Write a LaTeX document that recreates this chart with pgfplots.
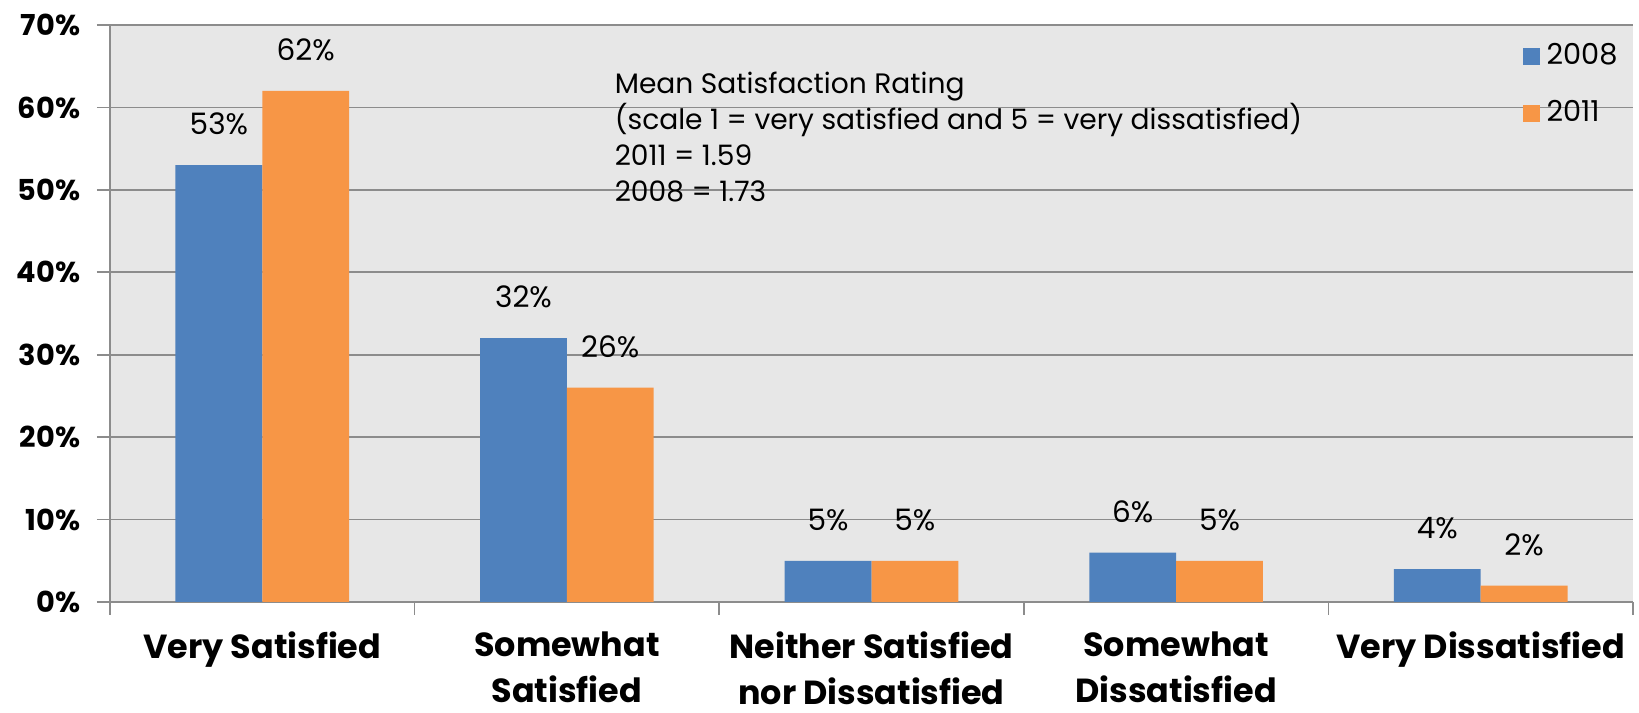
\documentclass[border=0pt]{standalone}
\usepackage{pgfplots}
\pgfplotsset{compat=1.18}
\usepackage{fontspec}
\setmainfont{Poppins}
\definecolor{cblue}{HTML}{4F81BD}
\definecolor{corange}{HTML}{F79646}
\definecolor{bggray}{HTML}{E7E7E7}
\definecolor{gridgray}{HTML}{8C8C8C}
\begin{document}
\begin{tikzpicture}
\useasboundingbox (0,0) rectangle (163.9mm,71.3mm);
\begin{axis}[
  at={(11.0mm,11.1mm)}, anchor=south west,
  scale only axis, width=152.3mm, height=57.7mm,
  xmin=-0.5, xmax=4.5, ymin=0, ymax=70,
  ybar, bar width=0.285,
  /pgf/number format/assume math mode=true,
  axis background/.style={fill=bggray},
  axis x line*=bottom, axis y line*=left,
  axis line style={gridgray, line width=0.5pt},
  tick align=outside, tick pos=left,
  major tick length=1.3mm, minor tick length=1.3mm,
  xtick={0,1,2,3,4},
  minor xtick={-0.5,0.5,1.5,2.5,3.5,4.5},
  major x tick style={draw=none},
  minor x tick style={draw=gridgray, line width=0.5pt},
  ytick style={draw=gridgray, line width=0.5pt},
  xticklabels={Very Satisfied,{Somewhat\\Satisfied},{Neither Satisfied\\nor Dissatisfied},{Somewhat\\Dissatisfied},Very Dissatisfied},
  xticklabel style={align=center, font=\fontsize{9.5}{12.9}\selectfont\bfseries, yshift=-1.15mm, inner sep=0.5mm},
  ytick={0,10,20,30,40,50,60,70},
  yticklabels={0\%,10\%,20\%,30\%,40\%,50\%,60\%,70\%},
  yticklabel style={font=\fontsize{8.2}{10}\selectfont\bfseries, xshift=-0.45mm},
  ymajorgrids, grid style={gridgray, line width=0.5pt},
  nodes near coords={\pgfmathprintnumber{\pgfplotspointmeta}\%},
  every node near coord/.append style={anchor=center, yshift=4.1mm, font=\fontsize{8.4}{10}\selectfont, text=black},
  legend style={at={(0.927,0.982)}, anchor=north west, draw=none, fill=none,
    font=\fontsize{8.2}{10}\selectfont, row sep=1.7mm, inner sep=0pt, legend cell align=left},
  legend image code/.code={\fill[#1] (0mm,-0.85mm) rectangle (1.7mm,0.85mm);},
]
\addplot[fill=cblue, draw=none, bar shift=-0.1425] coordinates {(0,53) (1,32) (2,5) (3,6) (4,4)};
\addplot[fill=corange, draw=none, bar shift=0.1425] coordinates {(0,62) (1,26) (2,5) (3,5) (4,2)};
\legend{2008,2011}
\node[anchor=north west, align=left, inner sep=0pt, font=\fontsize{8.0}{10.2}\selectfont] at (rel axis cs:0.331,0.919)
  {Mean Satisfaction Rating\\(scale 1 = very satisfied and 5 = very dissatisfied)\\2011 = 1.59\\2008 = 1.73};
\end{axis}
\end{tikzpicture}
\end{document}
